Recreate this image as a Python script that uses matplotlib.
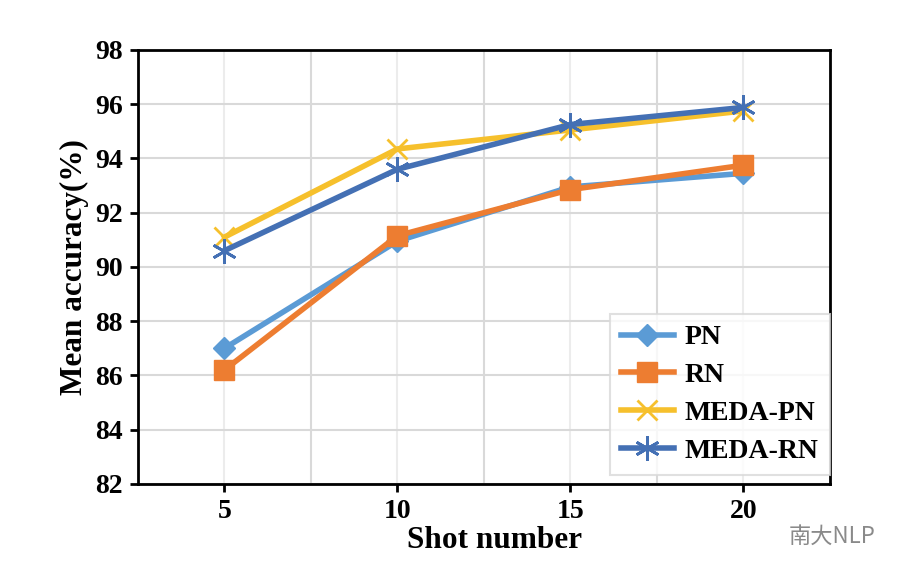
import matplotlib.pyplot as plt

# data
shots = [5, 10, 15, 20]
pn = [87.0, 90.95, 92.95, 93.45]
rn = [86.2, 91.15, 92.85, 93.75]
meda_pn = [91.1, 94.35, 95.05, 95.75]
meda_rn = [90.6, 93.6, 95.25, 95.88]
y_ticks = [82, 84, 86, 88, 90, 92, 94, 96, 98]

plt.rcParams['font.family'] = ['Liberation Serif', 'DejaVu Serif']
plt.rcParams['font.weight'] = 'bold'

fig = plt.figure(figsize=(9.02, 5.74), dpi=100)
ax = fig.add_axes([0.153, 0.157, 0.767, 0.756])

# grid: light at ticks, darker in between
for x in shots:
    ax.axvline(x, color='#ececec', lw=1.5, zorder=0)
for x in [7.5, 12.5, 17.5]:
    ax.axvline(x, color='#d9d9d9', lw=1.5, zorder=0)
for y in y_ticks:
    ax.axhline(y, color='#d9d9d9', lw=1.5, zorder=0)

ax.plot(shots, pn, color='#5B9BD5', lw=4, marker='D', ms=11, label='PN', zorder=3)
ax.plot(shots, rn, color='#ED7D31', lw=4, marker='s', ms=15, label='RN', zorder=4)
ax.plot(shots, meda_pn, color='#F6C02C', lw=4, marker='x', ms=15, mew=2, label='MEDA-PN', zorder=3)
ax.plot(shots, meda_rn, color='#4470B4', lw=4, marker=(6, 2, 0), ms=18, mew=2, label='MEDA-RN', zorder=4)

ax.set_xlim(2.5, 22.5)
ax.set_ylim(82, 98)
ax.set_xticks(shots)
ax.set_yticks(y_ticks)
ax.tick_params(axis='both', labelsize=20, width=2, length=6, direction='out', pad=5)
for s in ax.spines.values():
    s.set_linewidth(2)

ax.set_xlabel('Shot number', fontsize=22.5, fontweight='bold')
ax.xaxis.set_label_coords(0.515, -0.097)
ax.set_ylabel('Mean accuracy(%)', fontsize=22.5, fontweight='bold', labelpad=4)

leg = ax.legend(loc='lower right', frameon=True, fancybox=False,
                borderaxespad=0, bbox_to_anchor=(1.0, 0.02),
                handlelength=1.9, handletextpad=0.4, labelspacing=0.45,
                borderpad=0.4, prop={'size': 20, 'weight': 'bold'})
leg.get_frame().set_edgecolor('#d9d9d9')
leg.get_frame().set_linewidth(1.5)

fig.text(0.874, 0.055, '南大NLP', fontsize=16, color='#8a8a8a',
         family=['Noto Sans CJK SC', 'DejaVu Sans'], weight='normal')

fig.savefig('out.png', dpi=100)
